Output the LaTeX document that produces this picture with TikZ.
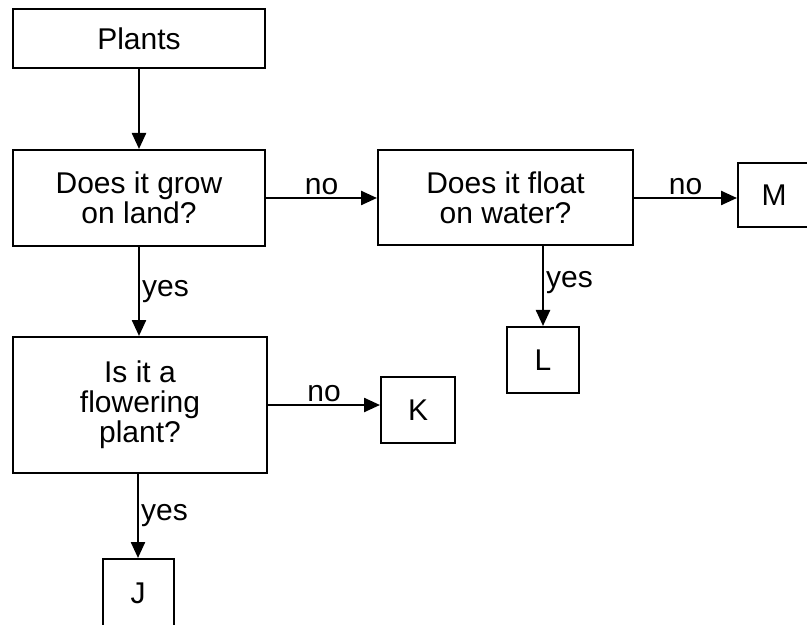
\documentclass[tikz,border=0pt]{standalone}
\usepackage{fontspec}
\setmainfont{Liberation Sans}
\usetikzlibrary{arrows.meta}
\tikzset{
    box/.style={draw, line width=1pt, align=center, inner sep=0pt,
        font=\fontsize{15}{15}\selectfont},
    arr/.style={-{Triangle[length=8pt,width=7pt]}, line width=1.2pt},
    lbl/.style={font=\fontsize{15}{15}\selectfont, inner sep=1pt}
}

\begin{document}
\begin{tikzpicture}[x=0.5pt,y=-0.5pt]
    \useasboundingbox (0,0) rectangle (807,625);
    % Question boxes
    \node[box, minimum width=126pt, minimum height=29.5pt] (plants) at (139,38.5) {Plants};
    \node[box, minimum width=126pt, minimum height=48pt] (grow) at (139,198) {Does it grow\\on land?};
    \node[box, minimum width=127.5pt, minimum height=47.5pt] (float) at (505.5,198) {Does it float\\on water?};
    \node[box, minimum width=127pt, minimum height=68pt] (flower) at (140,405) {Is it a\\flowering\\plant?};
    % Answer boxes
    \node[box, minimum width=36pt, minimum height=32pt] (M) at (774,195) {M};
    \node[box, minimum width=36pt, minimum height=33pt] (L) at (543,360) {L};
    \node[box, minimum width=37pt, minimum height=33pt] (K) at (418,410) {K};
    \node[box, minimum width=35.5pt, minimum height=34pt] (J) at (138,593) {J};
    % Connectors
    \draw[arr] (plants.south -| grow.north) -- (grow.north);
    \draw[arr] (grow.east) -- node[lbl, above] {no} (grow.east -| float.west);
    \draw[arr] (float.east) -- node[lbl, above] {no} (float.east -| M.west);
    \draw[arr] (L.north |- float.south) -- node[lbl, right, pos=0.45] {yes} (L.north);
    \draw[arr] (grow.south) -- node[lbl, right] {yes} (grow.south |- flower.north);
    \draw[arr] (flower.east) -- node[lbl, above] {no} (flower.east -| K.west);
    \draw[arr] (J.north |- flower.south) -- node[lbl, right] {yes} (J.north);
\end{tikzpicture}
\end{document}
